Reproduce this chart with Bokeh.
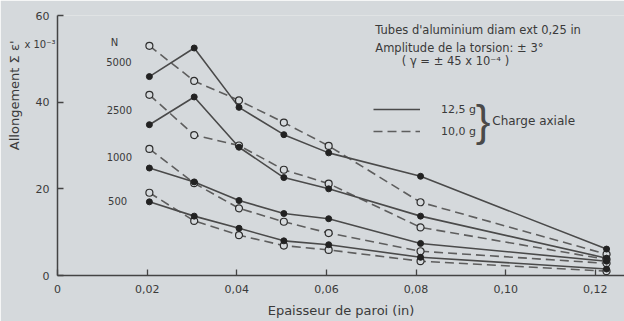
from bokeh.plotting import figure
from bokeh.models import (Label, Legend, LegendItem, FixedTicker, ColumnDataSource,
                          Title, LinearAxis)
from bokeh.core.properties import value
from bokeh.embed import file_html
from bokeh.resources import INLINE

# Wall thickness of the tubes (in)
thickness = [0.0205, 0.0305, 0.0405, 0.0505, 0.0605, 0.081, 0.1225]

# Cumulative elongation (x 10^-3), axial load 12,5 g (solid lines)
load_125 = {
    "5000": [45.9, 52.5, 38.8, 32.5, 28.3, 22.9, 6.1],
    "2500": [34.8, 41.2, 29.6, 22.6, 20.0, 13.7, 4.0],
    "1000": [24.8, 21.6, 17.3, 14.3, 13.1, 7.4, 3.3],
    "500":  [17.0, 13.7, 10.9, 8.0, 7.1, 4.2, 1.5],
}
# Cumulative elongation (x 10^-3), axial load 10,0 g (dashed lines)
load_100 = {
    "5000": [53.0, 44.9, 40.4, 35.3, 29.9, 16.9, 4.9],
    "2500": [41.7, 32.4, 30.0, 24.4, 21.2, 11.1, 3.7],
    "1000": [29.2, 21.3, 15.5, 12.4, 9.8, 5.6, 2.8],
    "500":  [19.1, 12.6, 9.3, 6.9, 5.9, 3.3, 1.0],
}

# Cycle-count labels (N) and where they sit
cycle_names = ["5000", "2500", "1000", "500"]
cycle_label_x = [0.0137, 0.0138, 0.0138, 0.0134]
cycle_label_y = [49.2, 38.3, 27.3, 17.1]

x_ticks = [0, 0.02, 0.04, 0.06, 0.08, 0.10, 0.12]
x_tick_labels = ["0", "0,02", "0,04", "0,06", "0,08", "0,10", "0,12"]
y_ticks = [0, 20, 40, 60]
scale_note_at = 53.4

BG = "#d5d9dc"
INK = "#3a3a3a"
FONT = "DejaVu Sans"

p = figure(width=624, height=321, x_range=(0, 0.1265), y_range=(0, 60),
           output_backend="svg", toolbar_location=None,
           min_border_left=57, min_border_right=0, min_border_top=15,
           min_border_bottom=46)
p.background_fill_color = BG
p.border_fill_color = BG
p.outline_line_color = None
p.grid.visible = False

# axes
p.xaxis.ticker = FixedTicker(ticks=x_ticks)
p.xaxis.major_label_overrides = {t: s for t, s in zip(x_ticks, x_tick_labels)}
p.yaxis.ticker = FixedTicker(ticks=y_ticks)
for ax in (p.xaxis[0], p.yaxis[0]):
    ax.axis_line_color = "#444444"
    ax.axis_line_width = 1.5
    ax.major_tick_line_color = "#444444"
    ax.major_tick_line_width = 1.3
    ax.major_tick_in = 6
    ax.major_tick_out = 0
    ax.minor_tick_line_color = None
    ax.major_label_text_font = FONT
    ax.major_label_text_font_size = "11px"
    ax.major_label_text_color = INK
p.xaxis.major_label_standoff = 9
p.yaxis.major_label_standoff = 8
p.xaxis.axis_label = "Epaisseur de paroi (in)"
p.xaxis.axis_label_text_font = FONT
p.xaxis.axis_label_text_font_size = "13px"
p.xaxis.axis_label_text_font_style = "normal"
p.xaxis.axis_label_text_color = INK
p.xaxis.axis_label_standoff = 7

# scale factor of the y values, written beside the top of the y axis
scale_axis = LinearAxis(ticker=FixedTicker(ticks=[scale_note_at]),
                        major_label_overrides={scale_note_at: "x 10⁻³"},
                        axis_line_color=None, major_tick_line_color=None,
                        minor_tick_line_color=None, major_tick_in=0,
                        major_tick_out=0, major_label_standoff=-23,
                        major_label_text_font=FONT,
                        major_label_text_font_size="10px",
                        major_label_text_color=INK)
p.add_layout(scale_axis, "left")

# y-axis title as a vertical side title, toward the top of the axis
p.add_layout(Title(text="Allongement Σ ε'", align="right", offset=25,
                   text_font=FONT, text_font_size="13px",
                   text_font_style="normal", text_color=INK,
                   standoff=0), "left")

solid_renderers = []
dashed_renderers = []
for name in cycle_names:
    src_s = ColumnDataSource(dict(x=thickness, y=load_125[name]))
    src_d = ColumnDataSource(dict(x=thickness, y=load_100[name]))
    rd = p.line("x", "y", source=src_d, line_color="#5e5e5e", line_width=1.6,
                line_dash="9 5")
    rs = p.line("x", "y", source=src_s, line_color="#4a4a4a", line_width=1.6)
    p.scatter("x", "y", source=src_d, marker="circle", size=7,
              fill_color=BG, line_color="#2e2e2e", line_width=1.2)
    p.scatter("x", "y", source=src_s, marker="circle", size=6,
              fill_color="#222222", line_color="#222222")
    solid_renderers.append(rs)
    dashed_renderers.append(rd)

# N labels for each pair of curves
p.text(x=cycle_label_x, y=cycle_label_y, text=cycle_names,
       text_font=value(FONT), text_font_size="10px", text_color=INK,
       text_align="center", text_baseline="middle")
p.add_layout(Label(x=0.0127, y=53.8, text="N", text_font=FONT,
                   text_font_size="10px", text_color=INK,
                   text_align="center", text_baseline="middle"))

# test conditions
notes = [
    (0.0709, 56.7, "Tubes d'aluminium diam ext 0,25 in"),
    (0.0709, 52.5, "Amplitude de la torsion: ± 3°"),
    (0.0768, 49.4, "( γ = ± 45 x 10⁻⁴ )"),
]
for nx, ny, t in notes:
    p.add_layout(Label(x=nx, y=ny, text=t, text_font=FONT,
                       text_font_size="11.5px", text_color=INK,
                       text_align="left", text_baseline="middle"))

# legend: line style by axial load
legend = Legend(items=[LegendItem(label="12,5 g", renderers=[solid_renderers[0]]),
                       LegendItem(label="10,0 g", renderers=[dashed_renderers[0]])],
                location=(316, 134), orientation="vertical")
legend.glyph_width = 47
legend.glyph_height = 20
legend.label_height = 20
legend.label_standoff = 21
legend.spacing = 2
legend.padding = 0
legend.margin = 0
legend.border_line_alpha = 0
legend.background_fill_alpha = 0
legend.label_text_font = FONT
legend.label_text_font_size = "11px"
legend.label_text_color = INK
p.add_layout(legend)

p.add_layout(Label(x=0.0966, y=35.8, text="}", text_font="Liberation Sans",
                   text_font_size="44px", text_color="#4a4a4a",
                   text_align="right", text_baseline="middle"))
p.add_layout(Label(x=0.0970, y=35.6, text="Charge axiale", text_font=FONT,
                   text_font_size="12px", text_color=INK,
                   text_align="left", text_baseline="middle"))

open("out.html", "w").write(file_html(p, INLINE))
